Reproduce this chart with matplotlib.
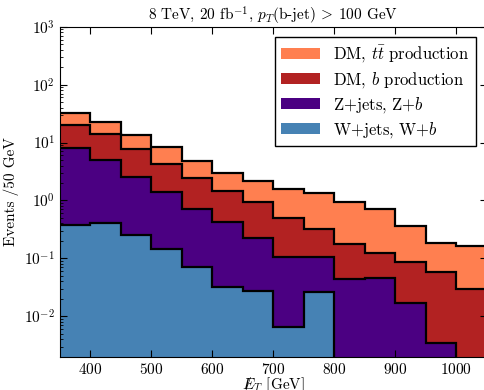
import numpy as np
import matplotlib
matplotlib.use("Agg")
import matplotlib.pyplot as plt

plt.rcParams["font.family"] = "serif"
plt.rcParams["font.serif"] = ["cmr10", "DejaVu Serif"]
plt.rcParams["mathtext.fontset"] = "cm"
plt.rcParams["axes.formatter.use_mathtext"] = True

# MET bin edges, 50 GeV wide
edges = np.arange(350, 1051, 50)

# per-process events per bin (stacked bottom to top)
w_jets = [0.38, 0.41, 0.25, 0.143, 0.070, 0.032, 0.027, 0.0066, 0.026, 0, 0, 0, 0, 0]
z_jets = [7.52, 4.59, 2.33, 1.25, 0.63, 0.40, 0.193, 0.100, 0.078, 0.044, 0.046, 0.017, 0.0034, 0]
dm_b = [12.0, 8.9, 5.12, 2.91, 1.75, 1.05, 0.71, 0.393, 0.216, 0.132, 0.076, 0.068, 0.054, 0.030]
dm_tt = [12.8, 9.1, 5.8, 3.9, 2.25, 1.52, 1.22, 1.08, 1.02, 0.764, 0.598, 0.275, 0.123, 0.133]

labels = [r"W+jets, W+$b$", r"Z+jets, Z+$b$",
          r"DM, $b$ production", r"DM, $t\bar{t}$ production"]
colors = ["#4682B4", "#4B0082", "#B22222", "#FF7F50"]
layers = [w_jets, z_jets, dm_b, dm_tt]

fig = plt.figure(figsize=(4.85, 3.9), dpi=100)
ax = fig.add_axes([60 / 485, 1 - 356.7 / 390, 427 / 485, 330 / 390])

floor = 1e-6
bottom = np.full(len(edges) - 1, floor)
handles = []
for vals, col, lab in zip(layers, colors, labels):
    top = bottom + np.array(vals)
    h = ax.stairs(top, edges, baseline=bottom, fill=True, color=col, label=lab)
    handles.append(h)
    bottom = top

# black outlines along the top of each stack
bottom = np.full(len(edges) - 1, floor)
for vals in layers:
    top = bottom + np.array(vals)
    ax.stairs(top, edges, baseline=None, color="black", lw=1.6)
    bottom = top

ax.set_yscale("log")
ax.set_xlim(350, 1050)
ax.set_ylim(2e-3, 1e3)
ax.set_xticks([400, 500, 600, 700, 800, 900, 1000])
ax.tick_params(which="both", direction="in", top=True, right=True, labelsize=11)
ax.tick_params(which="major", length=5)
ax.tick_params(which="minor", length=2.5)

ax.set_xlabel(r"$/\!\!\!\!E_T$ [GeV]", fontsize=11, labelpad=-1)
ax.set_ylabel("Events /50 GeV", fontsize=11)
ax.set_title(r"8 TeV, 20 fb$^{-1}$, $p_T$(b-jet) $\!>\!$ 100 GeV", fontsize=11, pad=4)

leg = ax.legend(handles[::-1], labels[::-1], loc="upper right", fontsize=12,
                fancybox=False, edgecolor="black", framealpha=1,
                bbox_to_anchor=(0.985, 0.985), handlelength=2.3,
                labelspacing=0.3, borderaxespad=0.3)
leg.get_frame().set_linewidth(1.0)

fig.savefig("out.png", dpi=100)
